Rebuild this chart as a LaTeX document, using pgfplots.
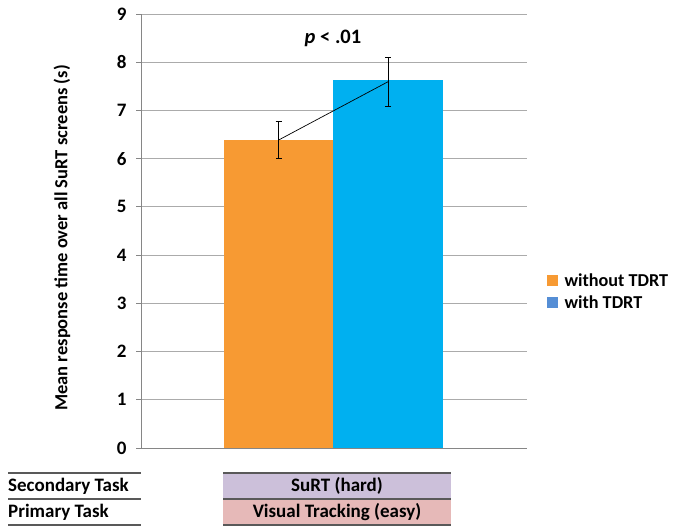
\documentclass[border=0pt]{standalone}
\usepackage{pgfplots}
\pgfplotsset{compat=1.18}
\usepackage{fontspec}
\setmainfont{Carlito}
\definecolor{barorange}{HTML}{F79A33}
\definecolor{barblue}{HTML}{00B0F0}
\definecolor{legblue}{HTML}{558ED5}
\definecolor{gridgray}{HTML}{ABABAB}
\definecolor{axisgray}{HTML}{868686}
\definecolor{boxpurple}{HTML}{CCC0DA}
\definecolor{boxpink}{HTML}{E6B9B8}
\definecolor{tblline}{HTML}{595959}
\begin{document}
\begin{tikzpicture}[x=1pt,y=1pt]
\useasboundingbox (0,0) rectangle (673,526);
\begin{axis}[
  at={(141pt,78pt)}, anchor=south west,
  scale only axis, width=386pt, height=434pt,
  xmin=0, xmax=386, ymin=0, ymax=9,
  axis x line=bottom, axis y line=left,
  axis line style={-, axisgray, line width=0.8pt},
  xtick=\empty,
  ytick={0,1,...,9},
  ymajorgrids, grid style={gridgray, line width=0.9pt},
  major tick length=5pt,
  tick style={axisgray, line width=0.8pt},
  tick align=outside,
  /pgf/number format/assume math mode=true,
  yticklabel style={font=\fontsize{19}{22}\selectfont\bfseries, xshift=-6pt},
  clip=false,
  legend style={draw=none, fill=none, at={(1.050,0.36)}, anchor=west,
    font=\fontsize{18.2}{21}\selectfont\bfseries, row sep=4pt,
    legend cell align=left, inner xsep=0pt},
  legend image code/.code={\fill (0pt,-5.5pt) rectangle (11pt,5.5pt); \path (16pt,0pt);},
]
\addplot[ybar, bar width=109.5pt, bar shift=0pt, fill=barorange, draw=none, forget plot]
  coordinates {(137.5,6.39)};
\addplot[ybar, bar width=109.5pt, bar shift=0pt, fill=barblue, draw=none, forget plot]
  coordinates {(247,7.63)};
\addplot[black, line width=0.7pt, mark=none, forget plot,
  error bars/.cd, y dir=both, y explicit,
  error bar style={black, line width=0.9pt},
  error mark options={rotate=90, mark size=3pt, black, line width=0.9pt}]
  coordinates {(137.5,6.385) +- (0,0.385) (247,7.595) +- (0,0.505)};
\addlegendimage{fill=barorange, draw=none}
\addlegendentry{without TDRT}
\addlegendimage{fill=legblue, draw=none}
\addlegendentry{with TDRT}
\end{axis}
\node[rotate=90, font=\fontsize{18.5}{21}\selectfont\bfseries] at (62,288) {Mean response time over all SuRT screens (s)};
\node[font=\fontsize{20.5}{24}\selectfont\bfseries] at (333,488) {\textit{p} < .01};
% task table
\fill[boxpurple] (223,27) rectangle (451,53);
\fill[boxpink] (223,1) rectangle (451,27);
\foreach \yy in {53,27,1}{
  \draw[tblline, line width=1.3pt] (8,\yy) -- (141,\yy);
  \draw[tblline, line width=1.3pt] (223,\yy) -- (451,\yy);
}
\node[anchor=west, inner sep=0pt, font=\fontsize{19}{22}\selectfont\bfseries] at (8,40) {Secondary Task};
\node[anchor=west, inner sep=0pt, font=\fontsize{19}{22}\selectfont\bfseries] at (8,14) {Primary Task};
\node[font=\fontsize{19}{22}\selectfont\bfseries] at (337,40) {SuRT (hard)};
\node[font=\fontsize{19}{22}\selectfont\bfseries] at (337,14) {Visual Tracking (easy)};
\end{tikzpicture}
\end{document}
